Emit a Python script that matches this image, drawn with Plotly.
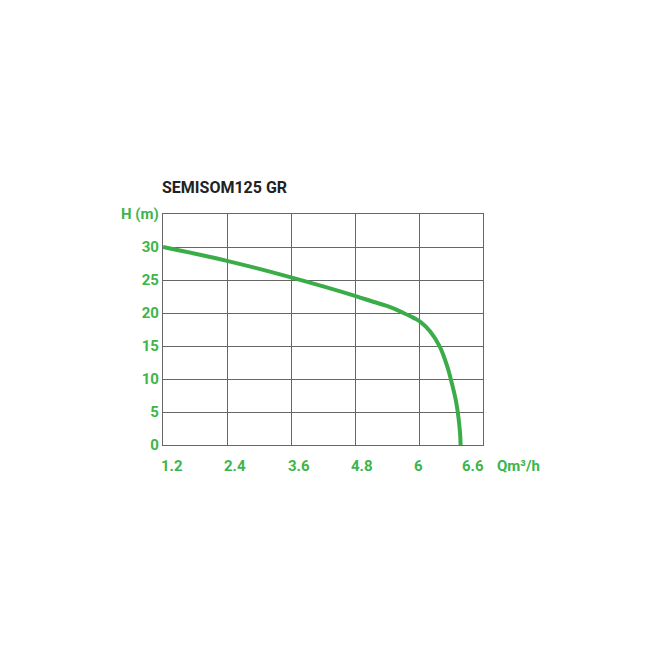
import plotly.graph_objects as go

# pump curve
flow = [1.2, 2.4, 3.6, 4.8, 5.14, 5.46, 5.71, 5.89, 6.02, 6.21, 6.39, 6.53, 6.60, 6.69, 6.73, 6.77, 6.78]
head = [30.0, 27.9, 25.4, 22.6, 21.7, 20.9, 20.0, 19.3, 18.7, 17.2, 14.9, 11.9, 9.85, 6.8, 4.8, 1.8, 0.0]

x_ticks = [1.2, 2.4, 3.6, 4.8, 6.0, 6.78]
x_labels = ["1.2", "2.4", "3.6", "4.8", "6", "6.6"]
x_shift = [-4, -5, -5, -6, -7, -1]
y_ticks = [0, 5, 10, 15, 20, 25, 30, 35]
y_labels = ["0", "5", "10", "15", "20", "25", "30", "H (m)"]

green = "#3db54a"
grid = "#666666"
font = "Roboto, sans-serif"

fig = go.Figure()
fig.add_trace(go.Scatter(x=flow, y=head, mode="lines",
                         line=dict(color="#3aad48", width=4, shape="spline"),
                         hoverinfo="skip"))

# x labels sit left-aligned next to the grid lines, done as annotations
for xv, txt, sh in zip(x_ticks, x_labels, x_shift):
    fig.add_annotation(x=xv, y=0, xref="x", yref="y", text="<b>%s</b>" % txt,
                       showarrow=False, xanchor="left", yanchor="top",
                       xshift=sh, yshift=-10,
                       font=dict(family=font, size=15, color=green))
fig.add_annotation(x=1, y=0, xref="paper", yref="y", text="<b>Qm³/h</b>",
                   showarrow=False, xanchor="left", yanchor="top",
                   xshift=12, yshift=-10,
                   font=dict(family=font, size=15, color=green))

fig.update_xaxes(range=[1.2, 7.2], tick0=1.2, dtick=1.2, showticklabels=False,
                 showgrid=True, gridcolor=grid, gridwidth=1.3, zeroline=False,
                 showline=True, linecolor=grid, linewidth=1.3, mirror=True,
                 fixedrange=True)
fig.update_yaxes(range=[0, 35], tickvals=y_ticks, ticktext=["<b>%s</b>" % t for t in y_labels],
                 tickfont=dict(family=font, size=15, color=green), ticks="",
                 showgrid=True, gridcolor=grid, gridwidth=1.3, zeroline=False,
                 showline=True, linecolor=grid, linewidth=1.3, mirror=True,
                 fixedrange=True)

# page body has an 8px margin, so the figure is 634 wide and shifted accordingly
fig.update_layout(width=634, height=634, showlegend=False,
                  plot_bgcolor="white", paper_bgcolor="white",
                  margin=dict(l=155, r=159, t=206, b=197),
                  title=dict(text="<b>SEMISOM125 GR</b>", x=154/634, xanchor="left",
                             y=1 - 179/634, yanchor="middle",
                             font=dict(family=font, size=16, color="#222222")))

fig.write_html("out.html")
